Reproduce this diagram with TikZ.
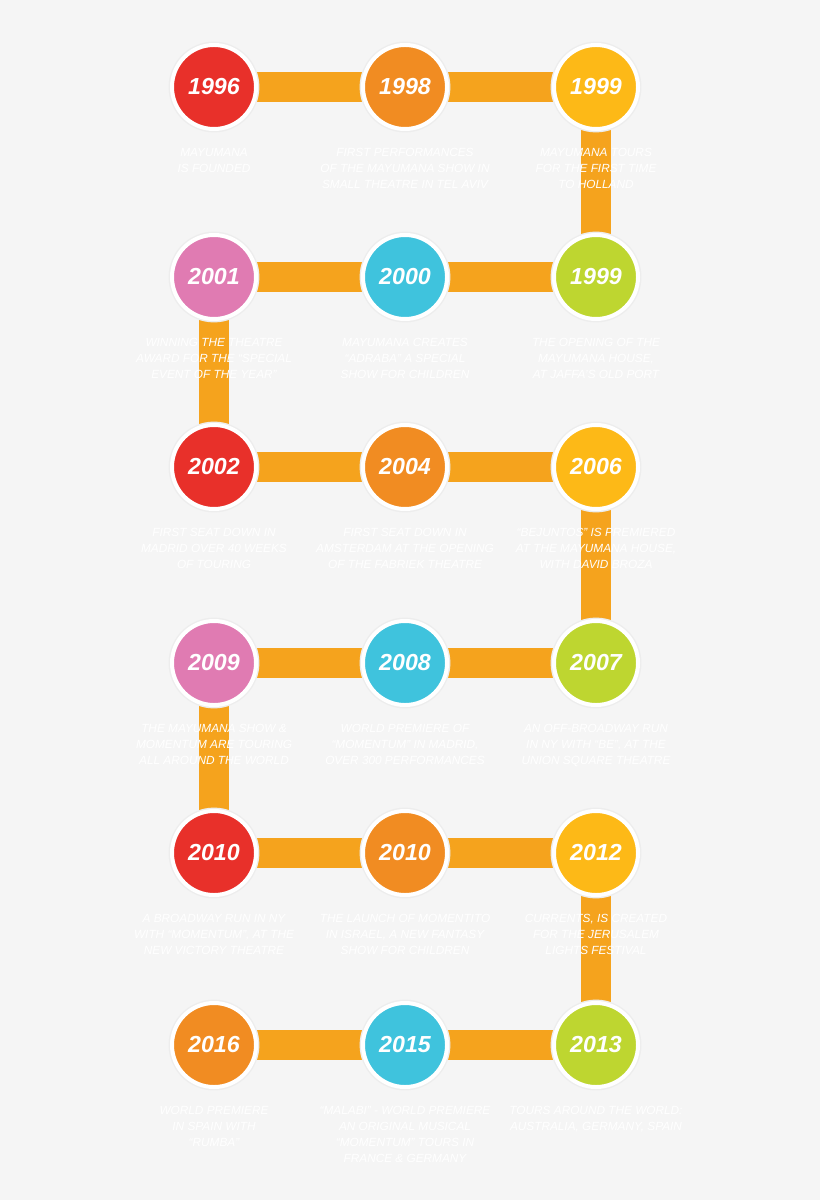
\documentclass[tikz,border=0pt]{standalone}
\usepackage{fontspec}
\setmainfont{Liberation Sans}
\usetikzlibrary{backgrounds}
\definecolor{pagegray}{HTML}{F5F5F5}
\definecolor{barorange}{HTML}{F5A31D}
\definecolor{dotred}{HTML}{E8302A}
\definecolor{dotorange}{HTML}{F18C22}
\definecolor{dotyellow}{HTML}{FDB917}
\definecolor{dotlime}{HTML}{BED630}
\definecolor{dotblue}{HTML}{3FC3DD}
\definecolor{dotpink}{HTML}{E07BB2}
\tikzset{
  yeardot/.style={circle, minimum size=2.1cm, inner sep=0pt, draw=white, line width=0.1cm,
    preaction={draw=black!7, line width=0.17cm},
    text=white, font=\fontsize{16.5}{18}\selectfont\bfseries\itshape},
  info/.style={anchor=north, inner sep=0pt, align=center, text=white,
    font=\fontsize{8.4}{11.3}\selectfont\itshape},
  bar/.style={line width=0.75cm, barorange},
}
\begin{document}
\begin{tikzpicture}[x=0.025cm, y=-0.025cm]
\useasboundingbox (0,0) rectangle (820,1200);
% first row
\node[yeardot, fill=dotred] (y1996) at (214,87) {1996};
\node[yeardot, fill=dotorange] (y1998) at (405,87) {1998};
\node[yeardot, fill=dotyellow] (y1999a) at (596,87) {1999};
\node[info] (d1996) at (214,148) {MAYUMANA\\IS FOUNDED};
\node[info] (d1998) at (405,148) {FIRST PERFORMANCES\\OF THE MAYUMANA SHOW IN\\SMALL THEATRE IN TEL AVIV};
\node[info] (d1999a) at (596,148) {MAYUMANA TOURS\\FOR THE FIRST TIME\\TO HOLLAND};
% second row
\node[yeardot, fill=dotpink] (y2001) at (214,277) {2001};
\node[yeardot, fill=dotblue] (y2000) at (405,277) {2000};
\node[yeardot, fill=dotlime] (y1999b) at (596,277) {1999};
\node[info] (d2001) at (214,338) {WINNING THE THEATRE\\AWARD FOR THE “SPECIAL\\EVENT OF THE YEAR”};
\node[info] (d2000) at (405,338) {MAYUMANA CREATES\\“ADRABA” A SPECIAL\\SHOW FOR CHILDREN};
\node[info] (d1999b) at (596,338) {THE OPENING OF THE\\MAYUMANA HOUSE,\\AT JAFFA’S OLD PORT};
% third row
\node[yeardot, fill=dotred] (y2002) at (214,467) {2002};
\node[yeardot, fill=dotorange] (y2004) at (405,467) {2004};
\node[yeardot, fill=dotyellow] (y2006) at (596,467) {2006};
\node[info] (d2002) at (214,528) {FIRST SEAT DOWN IN\\MADRID OVER 40 WEEKS\\OF TOURING};
\node[info] (d2004) at (405,528) {FIRST SEAT DOWN IN\\AMSTERDAM AT THE OPENING\\OF THE FABRIEK THEATRE};
\node[info] (d2006) at (596,528) {“BEJUNTOS” IS PREMIERED\\AT THE MAYUMANA HOUSE,\\WITH DAVID BROZA};
% fourth row
\node[yeardot, fill=dotpink] (y2009) at (214,663) {2009};
\node[yeardot, fill=dotblue] (y2008) at (405,663) {2008};
\node[yeardot, fill=dotlime] (y2007) at (596,663) {2007};
\node[info] (d2009) at (214,724) {THE MAYUMANA SHOW \&\\MOMENTUM ARE TOURING\\ALL AROUND THE WORLD};
\node[info] (d2008) at (405,724) {WORLD PREMIERE OF\\“MOMENTUM” IN MADRID,\\OVER 300 PERFORMANCES};
\node[info] (d2007) at (596,724) {AN OFF-BROADWAY RUN\\IN NY WITH “BE”, AT THE\\UNION SQUARE THEATRE};
% fifth row
\node[yeardot, fill=dotred] (y2010a) at (214,853) {2010};
\node[yeardot, fill=dotorange] (y2010b) at (405,853) {2010};
\node[yeardot, fill=dotyellow] (y2012) at (596,853) {2012};
\node[info] (d2010a) at (214,914) {A BROADWAY RUN IN NY\\WITH “MOMENTUM”, AT THE\\NEW VICTORY THEATRE};
\node[info] (d2010b) at (405,914) {THE LAUNCH OF MOMENTITO\\IN ISRAEL, A NEW FANTASY\\SHOW FOR CHILDREN};
\node[info] (d2012) at (596,914) {CURRENTS, IS CREATED\\FOR THE JERUSALEM\\LIGHTS FESTIVAL};
% sixth row
\node[yeardot, fill=dotorange] (y2016) at (214,1045) {2016};
\node[yeardot, fill=dotblue] (y2015) at (405,1045) {2015};
\node[yeardot, fill=dotlime] (y2013) at (596,1045) {2013};
\node[info] (d2016) at (214,1106) {WORLD PREMIERE\\IN SPAIN WITH\\“RUMBA”};
\node[info] (d2015) at (405,1106) {“MALABI” - WORLD PREMIERE\\AN ORIGINAL MUSICAL\\“MOMENTUM” TOURS IN\\FRANCE \& GERMANY};
\node[info] (d2013) at (596,1106) {TOURS AROUND THE WORLD:\\AUSTRALIA, GERMANY, SPAIN};
% the orange path behind the dots
\begin{scope}[on background layer]
\fill[pagegray] (0,0) rectangle (820,1200);
\draw[bar] (y1996.center) -- (y1998.center) -- (y1999a.center) -- (y1999b.center)
  -- (y2000.center) -- (y2001.center) -- (y2002.center) -- (y2004.center)
  -- (y2006.center) -- (y2007.center) -- (y2008.center) -- (y2009.center)
  -- (y2010a.center) -- (y2010b.center) -- (y2012.center) -- (y2013.center)
  -- (y2015.center) -- (y2016.center);
\end{scope}
\end{tikzpicture}
\end{document}
